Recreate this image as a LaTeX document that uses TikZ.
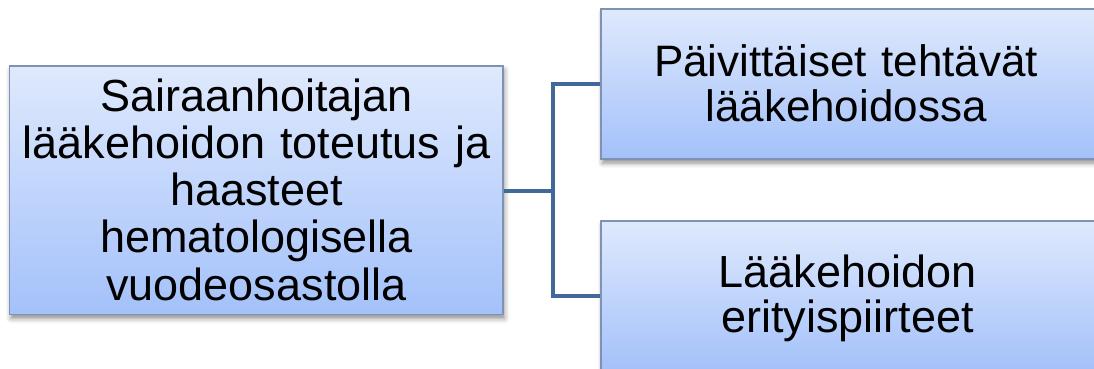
\documentclass[tikz,border=0pt]{standalone}
\usepackage{fontspec}
\setmainfont{Liberation Sans}
\usetikzlibrary{shadows.blur}

\definecolor{boxtop}{RGB}{223,233,253}
\definecolor{boxbottom}{RGB}{163,193,250}
\definecolor{boxline}{RGB}{128,146,180}
\definecolor{linkblue}{RGB}{64,104,153}

\tikzset{
  panel/.style={rectangle, inner sep=0pt, top color=boxtop, bottom color=boxbottom,
    draw=boxline, line width=1.3pt,
    blur shadow={shadow xshift=1.5pt, shadow yshift=-4pt, shadow blur radius=5pt, shadow opacity=45}},
  label/.style={inner sep=0pt, anchor=base, text width=480pt, align=center},
  link/.style={draw=linkblue, line width=4pt, line join=miter},
}

\begin{document}
\begin{tikzpicture}[x=1pt, y=-1pt]
  \useasboundingbox (0,0) rectangle (1094,369);

  % boxes
  \node[panel, minimum width=493.5pt, minimum height=248.5pt] (main) at (256.25,190.25) {};
  \node[panel, minimum width=494pt, minimum height=150pt] (daily) at (848,84) {};
  \node[panel, minimum width=494pt, minimum height=150pt] (special) at (848,296) {};

  % texts
  \node[label, font=\fontsize{45}{47.3}\selectfont] (maintext) at (256.5,111)
    {Sairaanhoitajan\\lääkehoidon toteutus ja\\haasteet\\hematologisella\\vuodeosastolla};
  \node[label, font=\fontsize{44}{45}\selectfont] (dailytext) at (846,76.5)
    {Päivittäiset tehtävät\\lääkehoidossa};
  \node[label, font=\fontsize{45}{45}\selectfont] (specialtext) at (847.5,287.7)
    {Lääkehoidon\\erityispiirteet};

  % connectors
  \coordinate (fork) at (552.7,190.5);
  \draw[link] (main.east |- fork) -- (fork);
  \draw[link] (daily.west) -| (fork) |- (special.west);
\end{tikzpicture}
\end{document}
